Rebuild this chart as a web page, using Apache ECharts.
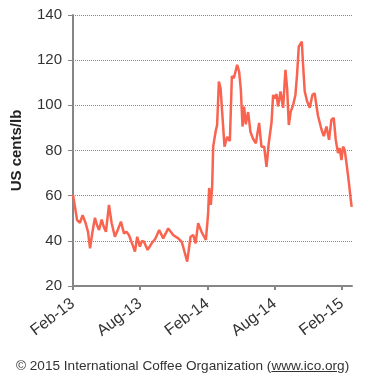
<!DOCTYPE html>
<html>
<head>
<meta charset="utf-8">
<script src="https://cdn.jsdelivr.net/npm/echarts@6/dist/echarts.min.js"></script>
<style>
  html, body { margin: 0; padding: 0; background: #fff; }
  #wrap { position: relative; width: 376px; height: 392px; }
  #chart { width: 376px; height: 392px; }
  #foot {
    position: absolute; left: 16px; top: 358px;
    font: 13.6px "Liberation Sans", Arial, sans-serif; color: #333;
    white-space: nowrap;
  }
</style>
</head>
<body>
<div id="wrap">
  <div id="chart"></div>
  <div id="foot">© 2015 International Coffee Organization (<u>www.ico.org</u>)</div>
</div>
<script>
// months since Feb 2013
const months = [
  0, 0.18, 0.36, 0.62, 0.86, 1.13, 1.34, 1.52, 1.74, 1.96, 2.14, 2.32, 2.56, 2.76, 2.94,
  3.21, 3.45, 3.74, 4.01, 4.28, 4.55, 4.77, 4.99, 5.26, 5.53, 5.73, 5.97, 6.15, 6.33, 6.66,
  7.02, 7.36, 7.69, 8.05, 8.50, 8.94, 9.39, 9.69, 9.83, 9.98, 10.19, 10.49, 10.73, 10.94,
  11.17, 11.47, 11.86, 12.06, 12.15, 12.30, 12.42, 12.51, 12.75, 12.86, 13.02, 13.17, 13.31,
  13.52, 13.76, 14.00, 14.18, 14.35, 14.65, 14.83, 14.98, 15.13, 15.27, 15.42, 15.63, 15.84,
  16.07, 16.32, 16.61, 16.82, 17.06, 17.27, 17.47, 17.72, 17.86, 18.01, 18.16, 18.30, 18.52,
  18.75, 18.96, 19.11, 19.26, 19.43, 19.64, 19.85, 20.00, 20.15, 20.30, 20.42, 20.53, 20.68,
  20.89, 21.13, 21.37, 21.57, 21.73, 21.87, 22.17, 22.38, 22.62, 22.85, 23.06, 23.27, 23.45,
  23.65, 23.80, 23.96, 24.10, 24.25, 24.45, 24.63, 24.78, 24.87
];
const prices = [
  60.3, 55, 49.2, 48, 51.4, 47.8, 44, 36.7, 44, 50.2, 47, 44.8, 49.4, 46, 44,
  55.9, 47.8, 41.8, 45, 48.5, 43.3, 44, 42.6, 39, 35.2, 41.8, 37.4, 40, 39.6, 36,
  38.9, 41, 44.8, 41.1, 45.5, 42.6, 41.1, 39.6, 37.4, 36.7, 30.8, 41.8, 42.6, 38.9,
  47.8, 44, 40.4, 52.2, 63.4, 55.9, 64, 81.7, 89, 91.2, 110.5, 107.5, 108,
  81.7, 86, 84.2, 113, 112, 117.9, 114.8, 106.8, 90.6, 99.4, 91.6, 97, 88.2,
  85.2, 83.2, 92.2, 81.7, 81.7, 72.8, 83.2, 92.5, 104.6, 103, 105, 99.5, 106.2,
  98.9, 115.7, 107.5, 91.3, 97.2, 100, 104.6, 113.8, 126, 126.7, 128.2, 118.2, 106.2,
  101.8, 98.9, 104.7, 105.3, 99.7, 95.3, 89.4, 86.4, 90.6, 84.7, 93.6, 94.4, 84.7,
  78.9, 81, 75.8, 81.7, 80.2, 72.8, 65.4, 58.6, 55
];
const tickMonths = [0, 6, 12, 18, 24];
const tickLabels = ["Feb-13", "Aug-13", "Feb-14", "Aug-14", "Feb-15"];

const chart = echarts.init(document.getElementById("chart"));
const font = '"Liberation Sans", Arial, sans-serif';

const option = {
  animation: false,
  grid: { left: 73, right: 24, top: 15, bottom: 106 },
  xAxis: {
    type: "value",
    min: 0,
    max: 24.9,
    splitLine: { show: false },
    axisLine: { lineStyle: { color: "#868686", width: 2 } },
    axisTick: {
      customValues: tickMonths,
      length: 4,
      lineStyle: { color: "#868686", width: 2 }
    },
    axisLabel: {
      customValues: tickMonths,
      rotate: 37,
      margin: 16,
      fontSize: 16,
      fontFamily: font,
      color: "#333",
      formatter: function (v) {
        const i = tickMonths.indexOf(Math.round(v));
        return i >= 0 ? tickLabels[i] : "";
      }
    }
  },
  yAxis: {
    type: "value",
    min: 20,
    max: 140,
    interval: 20,
    name: "US cents/lb",
    nameLocation: "middle",
    nameGap: 49,
    nameTextStyle: { fontSize: 15, fontWeight: "bold", fontFamily: font, color: "#222" },
    axisLine: { show: true, lineStyle: { color: "#868686", width: 2 } },
    axisTick: { show: true, length: 5, lineStyle: { color: "#868686", width: 1 } },
    axisLabel: { fontSize: 15, fontFamily: font, color: "#333", margin: 11 },
    splitLine: { lineStyle: { color: "#888", type: "dotted", width: 1 } }
  },
  series: [
    {
      type: "line",
      data: months.map((m, i) => [m, prices[i]]),
      symbol: "none",
      lineStyle: { color: "#F96450", width: 2.5 },
      itemStyle: { color: "#F96450" }
    }
  ]
};
chart.setOption(option);
</script>
</body>
</html>
